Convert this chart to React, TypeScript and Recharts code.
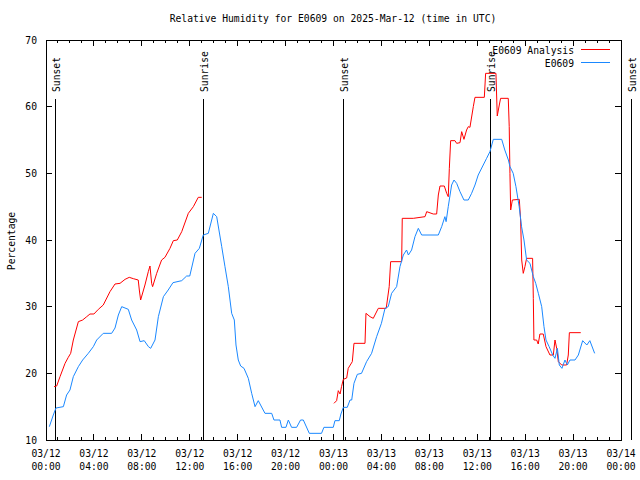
import React from "react"
import {
  LineChart,
  Line,
  XAxis,
  YAxis,
  ReferenceLine,
  ReferenceArea,
  Legend,
} from "recharts"

// hours since 2025-03-12 00:00 UTC
const analysisHours = [
  0.67, 0.89, 1.17, 1.59, 1.86, 2.06, 2.28, 2.7, 3.06, 3.4, 3.67, 4.0, 4.37, 4.78, 5.34, 5.76,
  6.18, 6.6, 6.95, 7.29, 7.7, 7.79, 7.9, 8.26, 8.54, 8.68, 8.82, 8.9, 9.24, 9.65, 9.93, 10.35,
  10.63, 10.96, 11.33, 11.88, 12.3, 12.71, 13.0,
  18.0,
  24.04, 24.26, 24.4, 24.55, 24.67, 24.82, 25.1, 25.23, 25.57, 25.71, 26.63, 26.71, 27.05, 27.32,
  27.74, 28.4, 28.65, 28.77, 29.69, 29.74, 30.66, 31.64, 31.78, 32.33, 32.61, 32.75, 32.89, 33.25,
  33.45, 33.58, 33.67, 33.78, 34.14, 34.28, 34.56, 34.7, 34.89, 35.11, 35.25, 35.39, 35.67, 35.81,
  36.59, 36.7, 37.56, 37.67, 37.84, 37.95, 38.59, 38.67, 38.73, 38.79, 38.93, 39.51, 39.62, 39.71,
  39.84, 39.98, 40.12, 40.62, 40.68, 40.73, 40.96, 41.09, 41.23, 41.51, 41.74, 42.07, 42.35, 42.49,
  42.63, 42.77, 43.05, 43.46, 43.6, 43.69, 44.64,
]
const analysisValues: (number | null)[] = [
  18, 18.1, 19.5, 21.5, 22.4, 23, 25, 27.75, 28, 28.5, 28.9, 28.9, 29.6, 30.25, 32.25, 33.4,
  33.5, 34.1, 34.4, 34.2, 34, 32.5, 31, 33.25, 35.25, 36.1, 33.5, 33, 35, 37, 37.4, 38.75,
  39.9, 40, 41.25, 44, 45, 46.4, 46.4,
  null,
  15.5, 15.9, 17.4, 16.9, 18, 19.1, 19.3, 20.75, 21.75, 24.5, 24.5, 29, 28.5, 28.25,
  29.75, 29.75, 33, 36.75, 36.75, 43.25, 43.25, 43.5, 44.25, 43.9, 43.9, 46.75, 48.1, 48.1,
  47, 46.5, 50.75, 54.9, 54.9, 54.5, 54.6, 56.25, 55.1, 56.5, 57, 56.9, 60, 61.4,
  61.4, 65, 65, 58.6, 60.25, 61.25, 61.25, 57, 50, 44.5, 46, 46.1, 43, 37,
  35, 36, 37.25, 37.25, 31.25, 25, 25, 24.4, 25.9, 25.9, 24, 22.75, 22.75, 25,
  23.75, 21.75, 21.25, 21.25, 22.75, 26.1, 26.1,
]

const obsHours = [
  0.28, 0.61, 0.83, 1.45, 1.72, 2.0, 2.28, 2.7, 3.06, 3.53, 3.95, 4.23, 4.78, 5.48, 5.76, 6.04,
  6.32, 6.87, 7.15, 7.57, 7.85, 8.2, 8.55, 8.74, 9.1, 9.38, 9.8, 10.2, 10.6, 11.33, 11.74, 12.0,
  12.44, 12.8, 13.13, 13.55, 13.97, 14.25, 14.67, 14.94, 15.22, 15.5, 15.72, 15.86, 16.05, 16.25,
  16.53, 16.89, 17.17, 17.45, 17.72, 18.28, 18.84, 19.03, 19.53, 19.67, 20.03, 20.23, 20.5, 20.92,
  21.25, 21.48, 21.98, 23.0, 23.2, 23.98, 24.12, 24.48, 24.62, 24.82, 25.15, 25.38, 25.52, 25.71,
  25.99, 26.34, 26.76, 27.18, 27.6, 28.0, 28.3, 28.57, 28.85, 29.27, 29.55, 29.83, 30.1, 30.25,
  30.52, 30.8, 31.08, 31.36, 32.75, 33.03, 33.3, 33.4, 33.58, 33.86, 34.06, 34.28, 34.56, 34.89,
  35.25, 35.53, 35.81, 36.08, 36.5, 36.78, 37.06, 37.34, 38.04, 38.3, 38.6, 38.73, 39.0, 39.23,
  39.5, 39.7, 39.9, 40.12, 40.4, 40.68, 40.88, 41.1, 41.38, 41.57, 41.74, 42.0, 42.3, 42.49,
  42.69, 42.85, 43.07, 43.32, 43.52, 43.74, 44.16, 44.44, 44.8, 45.15, 45.4, 45.8,
]
const obsValues = [
  12, 13.75, 14.8, 15, 16.75, 17.5, 19.5, 21, 22, 23, 24, 25, 26, 26, 26.8, 28.75,
  30, 29.6, 28, 26.5, 24.75, 24.9, 24, 23.75, 25, 28.5, 31.5, 32.5, 33.6, 33.9, 34.6, 34.6,
  38, 38.75, 40.75, 41, 44, 43.5, 39, 36, 33, 29, 28, 24.25, 22, 21.1,
  20.75, 19.25, 17, 15, 15.9, 14, 14, 13, 13, 11.9, 11.9, 13, 11.9, 11.9,
  13, 13, 11, 11, 11.9, 11.9, 12.9, 12.9, 13.9, 14.9, 14.9, 16, 16, 18.5,
  19.85, 20, 21.75, 23, 25.5, 27.5, 29.75, 30, 32, 33, 36, 37.75, 38.5, 37.75,
  38.5, 40.5, 41.75, 40.75, 40.75, 42, 43.5, 42.75, 45, 48.25, 49, 48.5, 47.25, 46,
  46, 47, 48.25, 49.75, 51.25, 52.25, 53.25, 55.1, 55.1, 53.5, 52, 51, 50, 48,
  45, 42, 40, 37, 36.5, 34.5, 33.5, 32, 30, 27, 25, 24, 22.75, 22.25,
  23.75, 21.25, 20.75, 22, 21.25, 22, 22, 22.75, 24.9, 24.25, 24.9, 23,
]

const sunEvents = ["Sunset", "Sunrise", "Sunset", "Sunrise", "Sunset"]
const sunHours = [0.81, 13.12, 24.82, 37.08, 48.9]

const xTicks = Array.from({ length: 49 }, (_, i) => i)
const yTicks = [10, 20, 30, 40, 50, 60, 70]
const legendOrder = ["E0609 Analysis", "E0609"]

const FONT = '"DejaVu Sans Mono", "Liberation Mono", monospace'
const FS = 9.7
const PLOT_W = 575
const PLOT_H = 400

const analysisData = analysisHours.map((h, i) => ({ h, v: analysisValues[i] }))
const obsData = obsHours.map((h, i) => ({ h, v: obsValues[i] }))

const pad = (n: number) => (n < 10 ? "0" + n : "" + n)

const XTick = (props: any) => {
  const { x, y, payload } = props
  const h = payload.value as number
  const major = h % 4 === 0
  const len = major ? 6 : 3
  const day = 12 + Math.floor(h / 24)
  return (
    <g>
      <line x1={x} x2={x} y1={y} y2={y - len} stroke="#000" shapeRendering="crispEdges" />
      <line x1={x} x2={x} y1={y - PLOT_H} y2={y - PLOT_H + len} stroke="#000" shapeRendering="crispEdges" />
      {major && (
        <text textAnchor="middle" fontFamily={FONT} fontSize={FS} fill="#000">
          <tspan x={x} y={y + 17}>{`03/${pad(day)}`}</tspan>
          <tspan x={x} y={y + 30}>{`${pad(h % 24)}:00`}</tspan>
        </text>
      )}
    </g>
  )
}

const YTick = (props: any) => {
  const { x, y, payload } = props
  return (
    <g>
      <line x1={x} x2={x + 6} y1={y} y2={y} stroke="#000" shapeRendering="crispEdges" />
      <line x1={x + PLOT_W} x2={x + PLOT_W - 6} y1={y} y2={y} stroke="#000" shapeRendering="crispEdges" />
      <text x={x - 9} y={y + 3.5} textAnchor="end" fontFamily={FONT} fontSize={FS} fill="#000">
        {payload.value}
      </text>
    </g>
  )
}

const sunLabel = (name: string) => (props: any) => {
  const vb = props.viewBox || {}
  const lx = vb.x + 4.5
  const ly = vb.y - 7
  return (
    <text
      x={lx}
      y={ly}
      transform={`rotate(-90 ${lx} ${ly})`}
      fontFamily={FONT}
      fontSize={FS}
      fill="#000"
    >
      {name}
    </text>
  )
}

const LegendBox = (props: any) => {
  const items = [...(props.payload || [])].sort(
    (a: any, b: any) => legendOrder.indexOf(a.value) - legendOrder.indexOf(b.value)
  )
  return (
    <svg width={150} height={32} style={{ display: "block", overflow: "visible" }}>
      {items.map((it: any, i: number) => (
        <g key={i}>
          <text x={104} y={14 + i * 13} textAnchor="end" fontFamily={FONT} fontSize={FS} fill="#000">
            {it.value}
          </text>
          <line x1={111} x2={140} y1={9.5 + i * 13} y2={9.5 + i * 13} stroke={it.color} />
        </g>
      ))}
    </svg>
  )
}

export default function App() {
  return (
    <div style={{ position: "absolute", left: 0, top: 0, width: 640, height: 480, background: "#fff" }}>
      <div
        style={{
          position: "absolute",
          left: 0,
          width: 666,
          top: 13,
          textAlign: "center",
          fontFamily: FONT,
          fontSize: FS,
          color: "#000",
          whiteSpace: "pre",
        }}
      >
        Relative Humidity for E0609 on 2025-Mar-12 (time in UTC)
      </div>
      <div
        style={{
          position: "absolute",
          left: 11,
          top: 241,
          transform: "translate(-50%, -50%) rotate(-90deg)",
          fontFamily: FONT,
          fontSize: FS,
          whiteSpace: "pre",
        }}
      >
        Percentage
      </div>
      <LineChart width={640} height={480} margin={{ top: 40, right: 19, left: 0, bottom: 0 }}>
        <XAxis
          dataKey="h"
          type="number"
          domain={[0, 48]}
          ticks={xTicks}
          interval={0}
          height={40}
          tickSize={0}
          tickMargin={0}
          axisLine={false}
          tickLine={false}
          tick={<XTick />}
          allowDuplicatedCategory={false}
        />
        <YAxis
          type="number"
          domain={[10, 70]}
          ticks={yTicks}
          width={46}
          tickSize={0}
          tickMargin={0}
          axisLine={false}
          tickLine={false}
          tick={<YTick />}
        />
        <ReferenceArea
          x1={0}
          x2={48}
          y1={10}
          y2={70}
          fill="none"
          stroke="#000"
          strokeWidth={1}
          shapeRendering="crispEdges"
        />
        {sunHours.map((h, i) => (
          <ReferenceLine
            key={i}
            segment={[{ x: h, y: 61.15 }, { x: h, y: 10 }]}
            stroke="#000"
            strokeWidth={1}
            ifOverflow="visible"
            shapeRendering="crispEdges"
            label={{ content: sunLabel(sunEvents[i]) } as any}
          />
        ))}
        <Line
          data={analysisData}
          dataKey="v"
          name="E0609 Analysis"
          stroke="#ff0000"
          strokeWidth={1}
          dot={false}
          activeDot={false}
          connectNulls={false}
          isAnimationActive={false}
        />
        <Line
          data={obsData}
          dataKey="v"
          name="E0609"
          stroke="#1a88ff"
          strokeWidth={1}
          dot={false}
          activeDot={false}
          isAnimationActive={false}
        />
        <Legend
          layout="horizontal"
          verticalAlign="middle"
          align="center"
          content={<LegendBox />}
          wrapperStyle={{ left: 470, top: 40, width: 150, height: 32 }}
        />
      </LineChart>
    </div>
  )
}
